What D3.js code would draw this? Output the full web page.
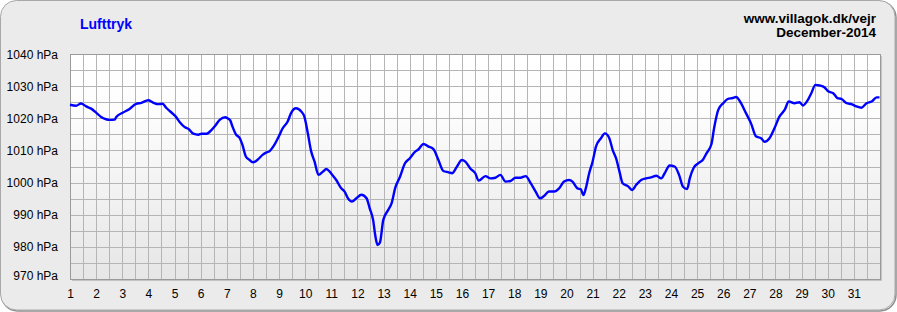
<!DOCTYPE html>
<html lang="en">
<head>
  <meta charset="UTF-8">
  <title>Lufttryk</title>
  <style>
  body { margin: 0; background: #fff; }
  svg text { font-family: Arial, "Liberation Sans", sans-serif; }
  .tick text { font-size: 12px; fill: #000; }
  </style>
</head>
<body>
  <script src="https://cdn.jsdelivr.net/npm/d3@7"></script>
  <script>
// time in days (1 = start of 1 Dec) and pressure in hPa
days = [1.00, 1.23, 1.42, 1.62, 1.81, 2.01, 2.19, 2.38, 2.51, 2.71, 2.77, 3.03, 3.28, 3.53, 3.73, 3.99,
  4.18, 4.37, 4.54, 4.69, 4.95, 5.04, 5.21, 5.40, 5.54, 5.72, 5.91, 6.04, 6.23, 6.42, 6.54, 6.74, 6.94,
  7.03, 7.13, 7.22, 7.35, 7.50, 7.60, 7.73, 7.86, 8.00, 8.18, 8.37, 8.50, 8.63, 8.82, 9.00, 9.14, 9.33,
  9.46, 9.65, 9.85, 9.97, 10.10, 10.23, 10.36, 10.51, 10.68, 10.81, 10.94, 11.01, 11.19, 11.38, 11.51,
  11.64, 11.79, 11.96, 12.15, 12.35, 12.47, 12.60, 12.69, 12.77, 12.86, 12.99, 13.18, 13.31, 13.45,
  13.63, 13.82, 14.00, 14.21, 14.33, 14.53, 14.72, 14.91, 15.10, 15.29, 15.49, 15.62, 15.81, 16.00,
  16.13, 16.32, 16.51, 16.64, 16.90, 17.09, 17.28, 17.47, 17.67, 17.86, 18.05, 18.24, 18.44, 18.63,
  18.82, 18.99, 19.14, 19.33, 19.53, 19.72, 19.91, 20.10, 20.23, 20.42, 20.55, 20.65, 20.74, 20.87,
  21.00, 21.13, 21.32, 21.47, 21.64, 21.77, 21.90, 22.03, 22.15, 22.35, 22.51, 22.67, 22.86, 23.05,
  23.24, 23.44, 23.63, 23.76, 23.95, 24.14, 24.31, 24.46, 24.62, 24.72, 24.87, 25.04, 25.23, 25.36,
  25.55, 25.65, 25.81, 26.00, 26.17, 26.36, 26.49, 26.68, 26.87, 27.06, 27.26, 27.45, 27.58, 27.77,
  27.96, 28.15, 28.35, 28.51, 28.73, 28.92, 29.05, 29.24, 29.37, 29.53, 29.69, 29.88, 30.03, 30.21,
  30.37, 30.53, 30.72, 30.91, 31.10, 31.29, 31.49, 31.68, 31.87, 31.98]
pressure = [1024.2, 1023.9, 1024.6, 1023.7, 1023.0, 1021.7, 1020.4, 1019.7, 1019.5, 1019.6, 1020.4,
  1021.8, 1022.9, 1024.5, 1024.8, 1025.6, 1024.9, 1024.4, 1024.5, 1023.2, 1021.3, 1020.6, 1018.7,
  1017.2, 1016.7, 1015.2, 1014.9, 1015.2, 1015.2, 1016.4, 1017.5, 1019.6, 1020.3, 1020.0, 1019.4,
  1017.4, 1015.0, 1013.8, 1011.7, 1008.1, 1007.1, 1006.3, 1007.1, 1008.6, 1009.3, 1009.7, 1011.7,
  1014.5, 1016.9, 1019.0, 1021.6, 1023.1, 1022.1, 1020.5, 1015.4, 1009.7, 1006.5, 1002.4, 1003.4,
  1004.2, 1003.4, 1002.7, 1000.8, 998.2, 997.2, 995.1, 994.1, 995.1, 996.2, 995.1, 992.0, 988.4,
  983.2, 980.6, 981.3, 988.4, 991.5, 993.6, 998.4, 1001.8, 1006.0, 1007.5, 1009.6, 1010.3, 1012.0,
  1011.2, 1010.4, 1007.0, 1003.6, 1003.2, 1002.9, 1005.0, 1007.0, 1006.5, 1004.4, 1002.9, 1000.6,
  1002.0, 1001.3, 1001.5, 1002.4, 1000.3, 1000.5, 1001.5, 1001.5, 1002.0, 999.8, 997.2, 995.1,
  995.8, 997.2, 997.2, 998.2, 1000.3, 1000.8, 1000.3, 998.2, 997.9, 996.1, 998.2, 1002.9, 1006.5,
  1011.2, 1013.8, 1015.3, 1013.8, 1010.1, 1007.5, 1003.4, 999.8, 998.9, 997.7, 999.3, 1000.8,
  1001.3, 1001.6, 1002.1, 1001.3, 1002.9, 1005.3, 1005.0, 1002.4, 998.7, 998.0, 1001.3, 1004.6,
  1006.0, 1007.2, 1009.1, 1012.0, 1016.9, 1022.6, 1024.7, 1026.0, 1026.3, 1026.6, 1024.7, 1021.6,
  1018.5, 1014.3, 1013.8, 1012.7, 1013.8, 1016.9, 1020.5, 1022.6, 1025.2, 1024.7, 1025.0, 1024.0,
  1025.7, 1027.8, 1030.4, 1030.2, 1029.6, 1028.3, 1027.8, 1026.3, 1026.0, 1024.7, 1024.4, 1023.7,
  1023.3, 1024.7, 1025.2, 1026.5, 1026.5]
dayLabels = d3.range(1, 32)
pressureTicks = [970, 980, 990, 1000, 1010, 1020, 1030, 1040]
title = "Lufttryk"
siteText = ["www.villagok.dk/vejr", "December-2014"]

width = 897
height = 312
margin = ({top: 54, right: 17, bottom: 33, left: 70})

x = d3.scaleLinear()
  .domain([1, 32])
  .range([margin.left, width - margin.right])
y = d3.scaleLinear()
  .domain([970, 1040])
  .range([height - margin.bottom, margin.top])

crisp = v => Math.round(v) + 0.5

chart = () => {
  const svg = d3.select("body").append("svg")
    .attr("width", width)
    .attr("height", height)

  const defs = svg.append("defs")
  const grad = defs.append("linearGradient")
    .attr("id", "plotbg")
    .attr("x1", 0).attr("y1", 0).attr("x2", 0).attr("y2", 1)
  grad.append("stop").attr("offset", "0%").attr("stop-color", "#ffffff")
  grad.append("stop").attr("offset", "25%").attr("stop-color", "#fdfdfd")
  grad.append("stop").attr("offset", "100%").attr("stop-color", "#e6e6e6")

  // outer panel with a slight shadow
  svg.append("rect")
    .attr("x", 1.5).attr("y", 1.5)
    .attr("width", width - 2.5).attr("height", height - 2.5)
    .attr("rx", 16)
    .attr("fill", "none")
    .attr("stroke", "#8c8c8c")
    .attr("stroke-width", 1.5)
  svg.append("rect")
    .attr("x", 0.5).attr("y", 0.5)
    .attr("width", width - 2.5).attr("height", height - 2.5)
    .attr("rx", 16)
    .attr("fill", "#ebebeb")
    .attr("stroke", "#a8a8a8")

  const x0 = x.range()[0], x1 = x.range()[1]
  const y0 = y.range()[1], y1 = y.range()[0]

  // plot shadow + background
  svg.append("rect")
    .attr("x", x0 + 2).attr("y", y0 + 2)
    .attr("width", x1 - x0).attr("height", y1 - y0)
    .attr("fill", "#c4c4c4")
  svg.append("rect")
    .attr("x", x0).attr("y", y0)
    .attr("width", x1 - x0).attr("height", y1 - y0)
    .attr("fill", "url(#plotbg)")

  // grid: every half day, every 5 hPa
  const grid = svg.append("g")
    .attr("stroke", "#b5b5b5")
    .attr("stroke-width", 1)
  grid.selectAll(".v")
    .data(d3.range(1, 32.01, 0.5))
    .enter().append("line")
      .attr("x1", d => crisp(x(d))).attr("x2", d => crisp(x(d)))
      .attr("y1", y0).attr("y2", y1)
  grid.selectAll(".h")
    .data(d3.range(970, 1040.1, 5))
    .enter().append("line")
      .attr("y1", d => crisp(y(d))).attr("y2", d => crisp(y(d)))
      .attr("x1", x0).attr("x2", x1)

  svg.append("rect")
    .attr("x", crisp(x0)).attr("y", crisp(y0))
    .attr("width", Math.round(x1 - x0)).attr("height", Math.round(y1 - y0))
    .attr("fill", "none")
    .attr("stroke", "#9a9a9a")

  // axes
  const yAxis = svg.append("g")
    .attr("transform", `translate(${x0 - 12},0)`)
    .call(d3.axisLeft(y).tickValues(pressureTicks).tickSize(0).tickPadding(0)
      .tickFormat(d => d + " hPa"))
  yAxis.select(".domain").remove()
  yAxis.selectAll(".tick text")
    .attr("dy", d => d === 970 ? "0em" : "0.34em")

  const xAxis = svg.append("g")
    .attr("transform", `translate(0,${y1})`)
    .call(d3.axisBottom(x).tickValues(dayLabels).tickSize(0).tickPadding(19)
      .tickFormat(d3.format("d")))
  xAxis.select(".domain").remove()
  xAxis.selectAll(".tick text").attr("dy", "0")

  // pressure line
  const line = d3.line()
    .x((d, i) => x(days[i]))
    .y(d => y(d))
    .curve(d3.curveMonotoneX)
  svg.append("path")
    .datum(pressure)
    .attr("fill", "none")
    .attr("stroke", "#0000ff")
    .attr("stroke-width", 2.4)
    .attr("stroke-linejoin", "round")
    .attr("d", line)

  // titles
  svg.append("text")
    .attr("x", 80).attr("y", 29)
    .attr("fill", "#0000ff")
    .attr("font-size", 14)
    .attr("font-weight", "bold")
    .text(title)

  svg.append("g")
    .selectAll("text")
    .data(siteText)
    .enter().append("text")
      .attr("x", 876)
      .attr("y", (d, i) => 23 + i * 13.5)
      .attr("text-anchor", "end")
      .attr("font-size", 13.5)
      .attr("font-weight", "bold")
      .attr("fill", "#000")
      .text(d => d)

  return svg.node()
}
chart()
  </script>
</body>
</html>
